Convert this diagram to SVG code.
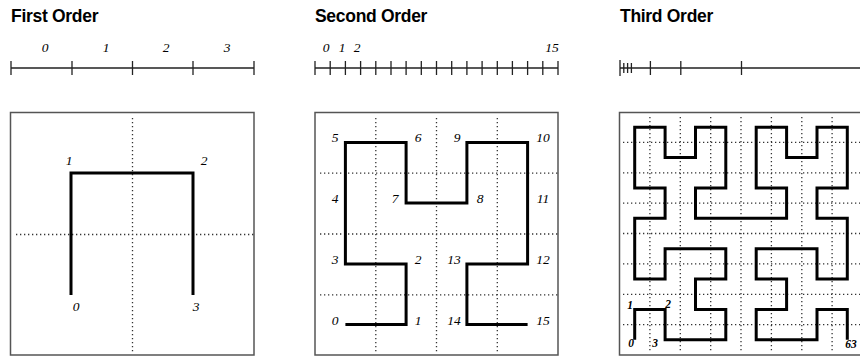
<svg xmlns="http://www.w3.org/2000/svg" width="860" height="356" viewBox="0 0 860 356">
<style>
.title{font-family:"Liberation Sans",Arial,sans-serif;font-weight:bold;font-size:17.5px;fill:#000;letter-spacing:-0.3px}
.lbl{font-family:"Liberation Serif","Times New Roman",serif;font-style:italic;font-size:13.5px;fill:#000;text-anchor:middle}
.lbl3{font-family:"Liberation Serif","Times New Roman",serif;font-style:italic;font-weight:bold;font-size:11.5px;fill:#000;text-anchor:middle}
.ruler{stroke:#222;stroke-width:1.3;fill:none}
.box{fill:#fff;stroke:#555;stroke-width:1.5}
.grid{stroke:#333;stroke-width:1.3;stroke-dasharray:1.3 2.7;fill:none}
.curve{stroke:#000;stroke-width:3;fill:none;stroke-linejoin:miter;stroke-linecap:butt}
</style>
<rect width="860" height="356" fill="#fff"/>

<g id="titles">
<text class="title" x="11" y="22">First Order</text>
<text class="title" x="315" y="22">Second Order</text>
<text class="title" x="620" y="22">Third Order</text>
</g>

<g id="ruler1">
<path class="ruler" d="M11 68H254M11 61V75M72 61V75M132.5 61V75M193 61V75M254 61V75"/>
<text class="lbl" x="45" y="52">0</text>
<text class="lbl" x="106" y="52">1</text>
<text class="lbl" x="166" y="52">2</text>
<text class="lbl" x="227" y="52">3</text>
</g>

<g id="ruler2">
<path class="ruler" d="M315 68H558M315 61V75M330.2 61V75M345.4 61V75M360.6 61V75M375.8 61V75M391 61V75M406.1 61V75M421.3 61V75M436.5 61V75M451.7 61V75M466.9 61V75M482.1 61V75M497.3 61V75M512.4 61V75M527.6 61V75M542.8 61V75M558 61V75"/>
<text class="lbl" x="326" y="52">0</text>
<text class="lbl" x="342" y="52">1</text>
<text class="lbl" x="357" y="52">2</text>
<text class="lbl" x="552" y="52">15</text>
</g>

<g id="ruler3">
<path class="ruler" d="M620 68H860M620 60V76M623.8 63V73M627.6 63V73M631.4 63V73M650.4 61V75M680.8 61V75M741.5 61V75"/>
</g>

<g id="panel1">
<rect class="box" x="10.5" y="112.5" width="243.5" height="242.5"/>
<path class="grid" d="M132.5 118V352M16 234.5H254"/>
<path class="curve" d="M71 295V173H193V295"/>
<text class="lbl" x="69" y="165">1</text>
<text class="lbl" x="204" y="165">2</text>
<text class="lbl" x="76" y="311">0</text>
<text class="lbl" x="196" y="311">3</text>
</g>

<g id="panel2">
<rect class="box" x="315" y="112.5" width="243" height="242.5"/>
<path class="grid" d="M375.8 118V352M436.5 118V352M497.3 118V352M320 173.2H558M320 234H558M320 294.8H558"/>
<path class="curve" d="M345.4 324.6H406.1V263.9H345.4V142.4H406.1V203.1H466.9V142.4H527.6V263.9H466.9V324.6H527.6"/>
<text class="lbl" x="335" y="142">5</text>
<text class="lbl" x="418" y="142">6</text>
<text class="lbl" x="457" y="142">9</text>
<text class="lbl" x="543" y="142">10</text>
<text class="lbl" x="335" y="203">4</text>
<text class="lbl" x="395" y="203">7</text>
<text class="lbl" x="480" y="203">8</text>
<text class="lbl" x="543" y="203">11</text>
<text class="lbl" x="335" y="264">3</text>
<text class="lbl" x="418" y="264">2</text>
<text class="lbl" x="454" y="264">13</text>
<text class="lbl" x="543" y="264">12</text>
<text class="lbl" x="335" y="325">0</text>
<text class="lbl" x="418" y="325">1</text>
<text class="lbl" x="454" y="325">14</text>
<text class="lbl" x="543" y="325">15</text>
</g>

<g id="panel3">
<rect class="box" x="619.5" y="112.5" width="243" height="242.5"/>
<path class="grid" d="M649.9 117V352M680.3 117V352M710.7 117V352M741 117V352M771.4 117V352M801.8 117V352M832.1 117V352M623 142.4H860M623 172.8H860M623 203.1H860M623 233.5H860M623 263.9H860M623 294.3H860M623 324.6H860"/>
<path class="curve" d="M634.7 339.8V309.4H665.1V339.8H725.8V309.4H695.5V279H725.8V248.7H665.1V279H634.7V218.3H665.1V187.9H634.7V127.2H665.1V157.6H695.5V127.2H725.8V187.9H695.5V218.3H786.6V187.9H756.2V127.2H786.6V157.6H817V127.2H847.3V187.9H817V218.3H847.3V279H817V248.7H756.2V279H786.6V309.4H756.2V339.8H817V309.4H847.3V339.8"/>
<text class="lbl3" x="630" y="309">1</text>
<text class="lbl3" x="668" y="308">2</text>
<text class="lbl3" x="631" y="347">0</text>
<text class="lbl3" x="655" y="347">3</text>
<text class="lbl3" x="851" y="348">63</text>
</g>
</svg>
